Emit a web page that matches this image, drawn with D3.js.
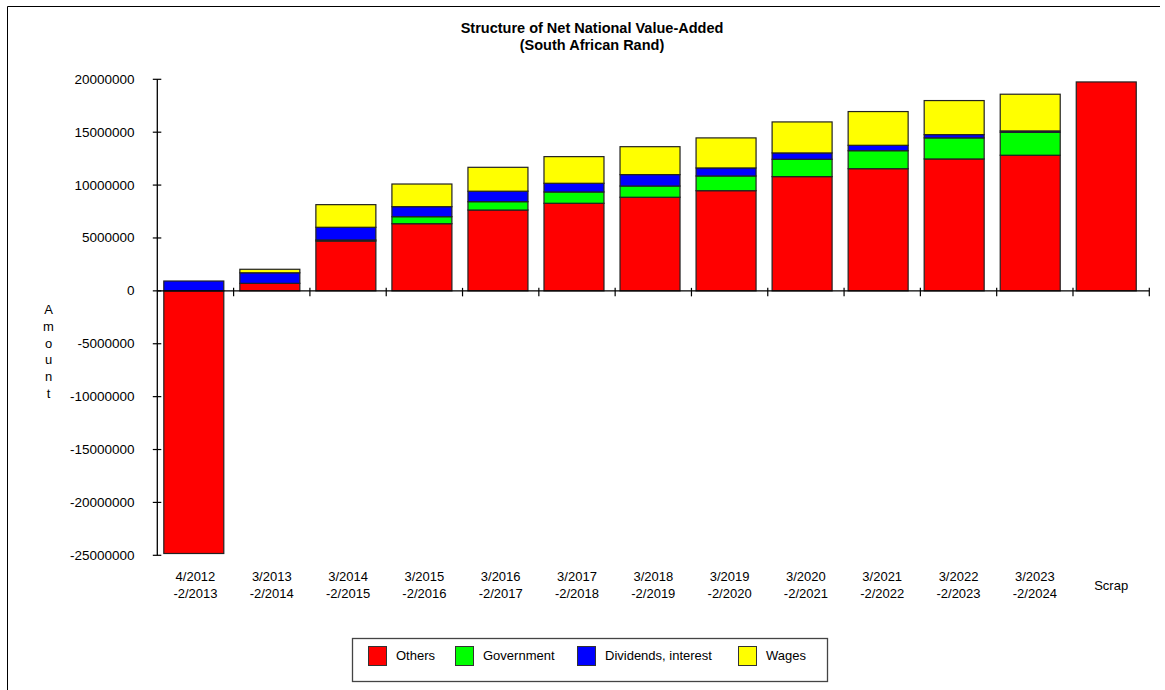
<!DOCTYPE html>
<html>
<head>
<meta charset="utf-8">
<script src="https://cdn.jsdelivr.net/npm/d3@7"></script>
<style>
  html, body { margin: 0; padding: 0; background: #fff; }
  svg { display: block; font-family: "Liberation Sans", Arial, sans-serif; }
</style>
</head>
<body>
<svg id="chart" width="1165" height="690"></svg>
<script>
const categories = ["4/2012\n-2/2013", "3/2013\n-2/2014", "3/2014\n-2/2015", "3/2015\n-2/2016",
  "3/2016\n-2/2017", "3/2017\n-2/2018", "3/2018\n-2/2019", "3/2019\n-2/2020", "3/2020\n-2/2021",
  "3/2021\n-2/2022", "3/2022\n-2/2023", "3/2023\n-2/2024", "Scrap"];
const others     = [-24830000, 710000, 4710000, 6350000, 7640000, 8280000, 8850000, 9470000, 10800000, 11550000, 12470000, 12820000, 19750000];
const government = [0, 0, 100000, 660000, 790000, 1070000, 1060000, 1390000, 1640000, 1700000, 1990000, 2170000, 0];
const dividends  = [930000, 1000000, 1200000, 950000, 990000, 820000, 1080000, 760000, 600000, 510000, 310000, 130000, 0];
const wages      = [0, 330000, 2140000, 2140000, 2260000, 2520000, 2640000, 2840000, 2930000, 3190000, 3220000, 3470000, 0];
const seriesNames = ["Others", "Government", "Dividends, interest", "Wages"];
const seriesColors = ["#ff0000", "#00ff00", "#0000ff", "#ffff00"];
const yTicks = [20000000, 15000000, 10000000, 5000000, 0, -5000000, -10000000, -15000000, -20000000, -25000000];
const title = ["Structure of Net National Value-Added", "(South African Rand)"];
const yTitle = "Amount";

const svg = d3.select("#chart");

// outer frame (top & left edges)
svg.append("line").attr("x1", 7.5).attr("x2", 1160).attr("y1", 6.5).attr("y2", 6.5).attr("stroke", "#000").attr("stroke-width", 1);
svg.append("line").attr("x1", 7.5).attr("x2", 7.5).attr("y1", 6.5).attr("y2", 690).attr("stroke", "#000").attr("stroke-width", 1);

// title
svg.selectAll("text.title").data(title).enter().append("text")
  .attr("class", "title")
  .attr("x", 592).attr("y", (d, i) => 33 + i * 17)
  .attr("text-anchor", "middle").attr("font-size", 14.5).attr("font-weight", "bold").attr("fill", "#000")
  .text(d => d);

const x = d3.scaleBand().domain(categories).range([157.3, 1149.3]).padding(0);
const y = d3.scaleLinear().domain([-25000000, 20000000]).range([555.3, 79.3]);

const rows = categories.map((c, i) => ({
  cat: c, "Others": others[i], "Government": government[i],
  "Dividends, interest": dividends[i], "Wages": wages[i]
}));
const stacked = d3.stack().keys(seriesNames).offset(d3.stackOffsetDiverging)(rows);

const barW = 60;
const barOffset = i => 6.5 - i * 0.27;

const g = svg.append("g");
stacked.forEach((s, si) => {
  g.selectAll(null).data(s.map((d, i) => ({ d, i })).filter(o => o.d[1] !== o.d[0]))
    .enter().append("rect")
    .attr("x", o => x(categories[o.i]) + barOffset(o.i))
    .attr("width", barW)
    .attr("y", o => y(Math.max(o.d[0], o.d[1])))
    .attr("height", o => Math.abs(y(o.d[0]) - y(o.d[1])))
    .attr("fill", seriesColors[si])
    .attr("stroke", "#222").attr("stroke-width", 1.2);
});

// y axis
const axisG = svg.append("g");
axisG.append("line").attr("x1", x.range()[0]).attr("x2", x.range()[0])
  .attr("y1", y(20000000)).attr("y2", y(-25000000)).attr("stroke", "#000").attr("stroke-width", 1.3);
axisG.selectAll("line.yt").data(yTicks).enter().append("line")
  .attr("x1", x.range()[0] - 4.5).attr("x2", x.range()[0] + 4)
  .attr("y1", d => y(d)).attr("y2", d => y(d)).attr("stroke", "#000").attr("stroke-width", 1.2);
axisG.selectAll("text.yl").data(yTicks).enter().append("text")
  .attr("x", 134.5).attr("y", d => y(d) + 4.5)
  .attr("text-anchor", "end").attr("font-size", 13.5).attr("fill", "#000")
  .text(d => String(d));

// x axis (zero line)
axisG.append("line").attr("x1", x.range()[0]).attr("x2", x.range()[1])
  .attr("y1", y(0)).attr("y2", y(0)).attr("stroke", "#000").attr("stroke-width", 1.3);
const boundaries = categories.map(c => x(c) + x.bandwidth());
axisG.selectAll("line.xt").data(boundaries).enter().append("line")
  .attr("x1", d => d).attr("x2", d => d)
  .attr("y1", y(0) - 3).attr("y2", y(0) + 5.5).attr("stroke", "#000").attr("stroke-width", 1.2);

// x labels
categories.forEach(c => {
  const lines = c.split("\n");
  const cx = x(c) + x.bandwidth() / 2;
  const startY = lines.length === 1 ? 590 : 581;
  svg.append("text")
    .attr("text-anchor", "middle").attr("font-size", 13).attr("fill", "#000")
    .selectAll("tspan").data(lines).enter().append("tspan")
    .attr("x", cx).attr("y", (d, i) => startY + i * 17).text(d => d);
});

// y title (stacked letters)
svg.append("g").selectAll("text").data(yTitle.split("")).enter().append("text")
  .attr("x", 48.5).attr("y", (d, i) => 314 + i * 16.8)
  .attr("text-anchor", "middle").attr("font-size", 13).attr("fill", "#000")
  .text(d => d);

// legend
const legend = svg.append("g");
legend.append("rect").attr("x", 352.5).attr("y", 638.5).attr("width", 475).attr("height", 43)
  .attr("fill", "#fff").attr("stroke", "#444").attr("stroke-width", 1.3);
const legendX = [368.5, 455.5, 577.5, 738.5];
seriesNames.forEach((n, i) => {
  legend.append("rect").attr("x", legendX[i]).attr("y", 646.5).attr("width", 18).attr("height", 19)
    .attr("fill", seriesColors[i]).attr("stroke", "#333").attr("stroke-width", 1);
  legend.append("text").attr("x", legendX[i] + 27.5).attr("y", 660)
    .attr("font-size", 13).attr("fill", "#000").text(n);
});
</script>
</body>
</html>
